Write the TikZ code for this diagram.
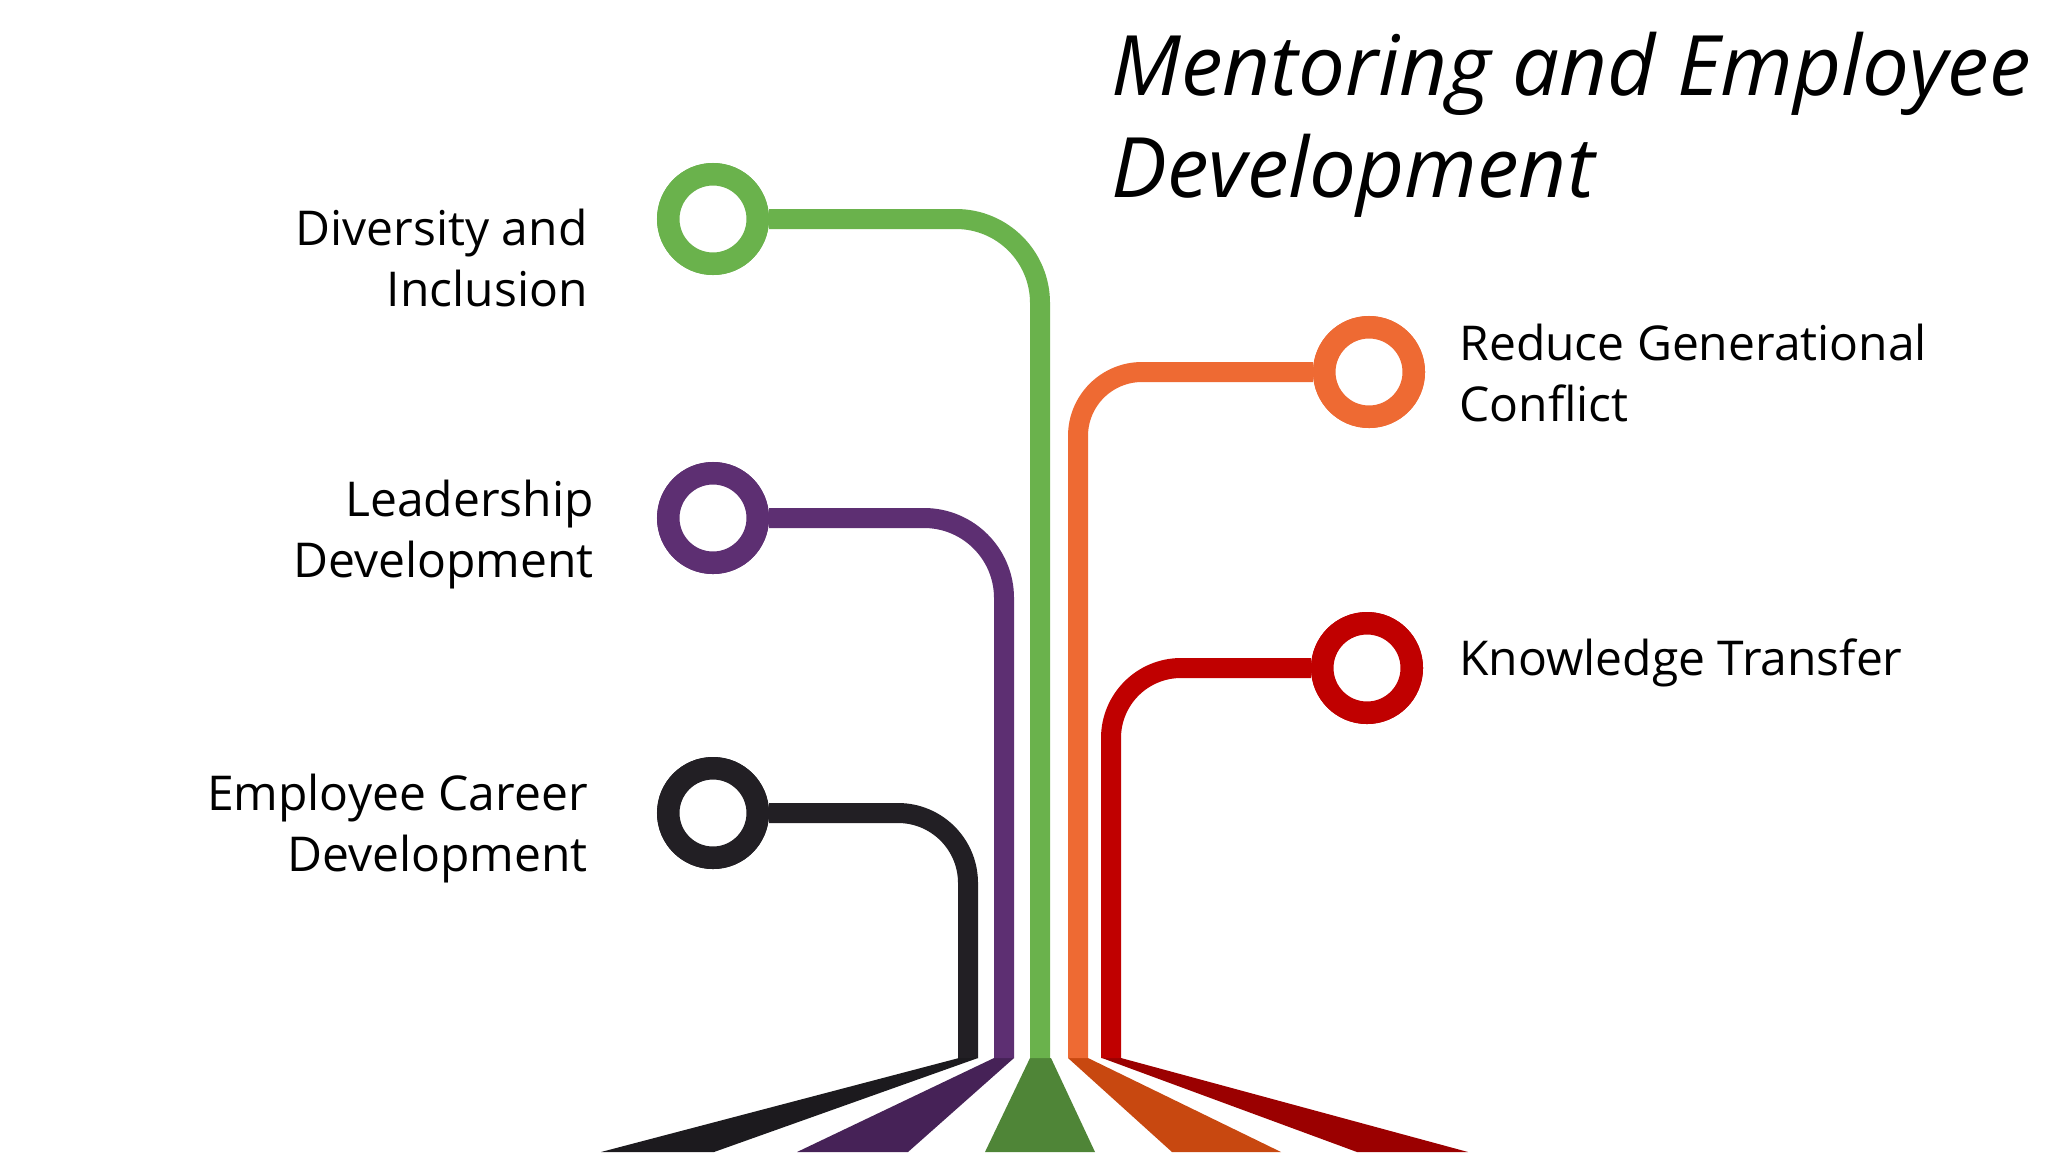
\documentclass[tikz,border=0pt]{standalone}
\usepackage{fontspec}
\setmainfont{Open Sans}
\definecolor{cgreen}{RGB}{106,178,76}
\definecolor{cpurple}{RGB}{93,47,114}
\definecolor{cblack}{RGB}{34,31,36}
\definecolor{corange}{RGB}{238,106,51}
\definecolor{cred}{RGB}{192,0,0}
\definecolor{dgreen}{RGB}{79,133,55}
\definecolor{dpurple}{RGB}{70,34,87}
\definecolor{dblack}{RGB}{28,26,30}
\definecolor{dorange}{RGB}{200,72,16}
\definecolor{dred}{RGB}{155,0,0}
\begin{document}
\begin{tikzpicture}[x=0.5pt,y=-0.5pt,
  ring/.style={circle,draw=#1,line width=11.25pt,fill=white,inner sep=0pt,minimum size=44.75pt},
  stem/.style={draw=#1,line width=10pt},
  lbl/.style={font=\fontsize{24pt}{30.5pt}\selectfont,text=black,inner sep=0pt},
  ttl/.style={font=\fontsize{41.7pt}{51pt}\selectfont\itshape,text=black,inner sep=0pt}
]
\useasboundingbox (0,0) rectangle (2048,1152);
\fill[white] (0,0) rectangle (2048,1152);

% wedges at the bottom
\fill[dblack]  (959,1058) -- (978,1058) -- (714,1152) -- (601,1152) -- cycle;
\fill[dpurple] (994,1058) -- (1014,1058) -- (908,1152) -- (797,1152) -- cycle;
\fill[dgreen]  (1030,1058) -- (1051,1058) -- (1095,1152) -- (985,1152) -- cycle;
\fill[dorange] (1068,1058) -- (1088,1058) -- (1281,1152) -- (1172,1152) -- cycle;
\fill[dred]    (1102,1058) -- (1121,1058) -- (1468,1152) -- (1357,1152) -- cycle;

% end points of the stems
\coordinate (gb) at (1040,1058);
\coordinate (pb) at (1004,1058);
\coordinate (kb) at (968,1058);
\coordinate (ob) at (1078,1058);
\coordinate (rb) at (1111,1058);

% rings
\node[ring=cgreen]  (cg) at (713,219) {};
\node[ring=cpurple] (cp) at (713,518) {};
\node[ring=cblack]  (ck) at (713,813) {};
\node[ring=corange] (co) at (1369,372) {};
\node[ring=cred]    (cr) at (1367,668) {};

% stems
\draw[stem=cgreen,rounded corners=42pt] (cg.east) -| (gb);
\draw[stem=cpurple,rounded corners=40pt] (cp.east) -| (pb);
\draw[stem=cblack,rounded corners=35pt] (ck.east) -| (kb);
\draw[stem=corange,rounded corners=32pt] (co.west) -| (ob);
\draw[stem=cred,rounded corners=35pt] (cr.west) -| (rb);

% redraw rings on top
\node[ring=cgreen]  at (cg) {};
\node[ring=cpurple] at (cp) {};
\node[ring=cblack]  at (ck) {};
\node[ring=corange] at (co) {};
\node[ring=cred]    at (cr) {};

% labels
\node[lbl,anchor=east,align=right] (tg) at (588,258) {Diversity and\\Inclusion};
\node[lbl,anchor=east,align=right] (tp) at (594,535) {Leadership\\Development};
\node[lbl,anchor=east,align=right] (tk) at (588,829) {Employee Career\\Development};
\node[lbl,anchor=west,align=left] (to) at (1459,373) {Reduce Generational\\Conflict};
\node[lbl,anchor=west,align=left] (tr) at (1459,663) {Knowledge Transfer};

% title
\node[ttl,anchor=west,align=left] (title) at (1111,125) {Mentoring and Employee\\Development};
\end{tikzpicture}
\end{document}
